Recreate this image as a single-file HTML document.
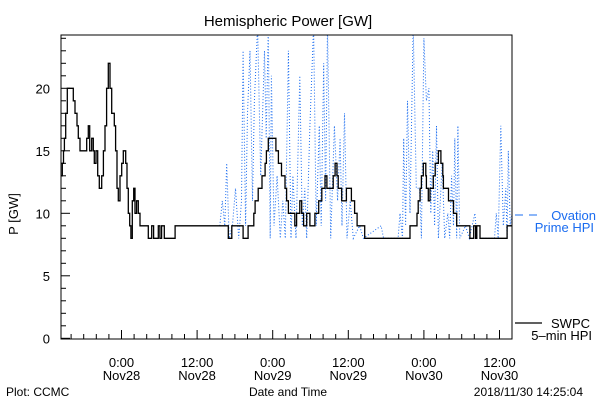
<!DOCTYPE html>
<html><head><meta charset="utf-8">
<style>
html,body{margin:0;padding:0;background:#fff;}
svg{display:block;font-family:"Liberation Sans",sans-serif;}
</style></head>
<body>
<svg id="chart" width="600" height="400" viewBox="0 0 600 400" xmlns="http://www.w3.org/2000/svg">
<defs><clipPath id="plotclip"><rect x="61" y="35" width="451" height="304"/></clipPath></defs>
<text x="288" y="26" font-size="15" text-anchor="middle">Hemispheric Power [GW]</text>
<g id="axes"></g>
<g id="series" clip-path="url(#plotclip)"></g>
<rect x="61" y="35" width="451" height="304" fill="none" stroke="#000" stroke-width="1"/>
<text transform="translate(18,214) rotate(-90)" font-size="13" text-anchor="middle">P [GW]</text>
<text x="288" y="396" font-size="12" text-anchor="middle">Date and Time</text>
<text x="6" y="396" font-size="12">Plot: CCMC</text>
<text x="583" y="396" font-size="12" text-anchor="end">2018/11/30 14:25:04</text>
<g>
<line x1="515" y1="215" x2="541" y2="215" stroke="#1a6cf0" stroke-width="1" stroke-dasharray="8 6"/>
<text x="596" y="220" font-size="13" fill="#1a6cf0" text-anchor="end">Ovation</text>
<text x="594" y="232" font-size="13" fill="#1a6cf0" text-anchor="end">Prime HPI</text>
</g>
<g>
<line x1="515" y1="323" x2="542" y2="323" stroke="#000" stroke-width="1.2"/>
<text x="590" y="328" font-size="13" text-anchor="end">SWPC</text>
<text x="592" y="340" font-size="13" text-anchor="end">5–min HPI</text>
</g>
</svg>
<script>
// hours relative to 2018-11-28 00:00
const swpcHours = [-9.6,-9.4,-9.2,-9.07,-8.86,-8.6,-7.65,-7.38,-7.07,-6.85,-6.59,-5.53,-5.27,-5.05,-4.73,-4.47,-4.31,-4.05,-3.78,-3.52,-3.15,-2.88,-2.62,-2.36,-2.09,-1.83,-1.56,-1.14,-0.93,-0.71,-0.5,-0.24,0.03,0.29,0.66,0.87,1.08,1.3,1.5,1.72,1.93,2.14,2.4,2.67,2.93,4.26,4.79,5.1,5.84,6.1,6.37,6.8,8.5,16.96,17.5,19.3,20.1,21.0,21.2,21.7,22.3,22.8,23.0,23.3,24.5,24.9,25.4,25.95,26.2,26.5,27.5,27.8,28.3,28.6,28.9,29.4,29.9,30.7,31.3,31.8,32.3,32.6,33.6,33.9,34.2,34.4,34.95,35.7,36.5,37.0,37.4,38.6,45.8,46.9,47.1,47.4,47.6,47.9,48.3,48.4,48.7,48.97,49.5,49.8,50.3,50.7,51.0,51.1,51.9,52.7,53.2,55.3,55.9,56.2,56.4,56.9,61.2,62.0];
const swpcValues = [13,14,15,16,18,20,19,18,17,16,15,16,17,15,16,15,14,15,13,12,13,15,17,20,22,20,18,17,15,12,11,13,14,15,14,12,10,9,8,11,12,10,11,10,9,8,9,8,9,8,9,8,9,8,9,8,9,10,11,12,13,14,15,16,15,14,13,12,11,10,9,10,11,10,9,10,9,10,11,12,13,12,13,14,13,12,11,12,11,10,9,8,9,10,11,12,13,14,13,12,11,12,13,14,15,14,13,12,11,10,9,8,9,8,9,8,9,9];
const ovationHours = [15.6,16.0,16.4,16.7,17.1,17.6,18.1,18.6,19.05,19.3,19.7,20.0,20.4,20.8,21.1,21.6,22.1,22.7,22.97,23.3,23.6,23.8,24.2,24.7,25.2,25.6,26.0,26.5,26.9,27.2,27.7,28.3,28.7,29.1,29.4,29.9,30.5,30.9,31.4,31.7,32.1,32.4,32.7,33.2,33.8,34.3,34.7,35.0,35.4,35.8,36.3,36.8,37.8,38.4,41.2,41.6,43.9,44.2,44.6,44.8,45.1,45.4,45.8,46.3,46.8,47.3,47.6,48.0,48.4,48.8,49.1,49.4,49.7,50.0,50.3,50.9,51.3,51.8,52.1,52.4,52.7,52.9,53.2,53.4,53.7,54.6,55.2,56.1,56.4,59.2,59.5,59.8,60.2,60.6,61.0,61.2,61.4,61.7,62.0];
const ovationValues = [9,11,9,14,8,9,12,8,11,23,9,18,23,11,19,25,13,23,16,25,8,21,9,13,8,11,8,23,8,13,8,21,9,12,8,17,25,9,17,9,22,11,25,8,17,11,16,9,18,8,11,8,9,8,9,8,8,10,8,16,9,19,10,25,12,12,8,24,19,20,10,15,9,17,8,14,8,10,8,13,9,16,8,17,8,9,8,10,8,8,10,8,17,9,12,8,15,9,10];
const yTickValues = [0,5,10,15,20];
const xTickHours = [0,12,24,36,48,60];
const xTickTimes = ["0:00","12:00","0:00","12:00","0:00","12:00"];
const xTickDates = ["Nov28","Nov28","Nov29","Nov29","Nov30","Nov30"];

const NS = "http://www.w3.org/2000/svg";
const X0 = 61, X1 = 512, Y0 = 338.3, YTOP = 35;
const xScale = h => 121.5 + 6.3 * h;
const yScale = v => Y0 - 12.5 * v;
function mk(tag, attrs, parent){ const e = document.createElementNS(NS, tag); for (const k in attrs) e.setAttribute(k, attrs[k]); parent.appendChild(e); return e; }

const axes = document.getElementById('axes');
// y ticks: minor every 1, major every 5
for (let v = 0; v <= 24; v++) {
  const major = v % 5 === 0;
  const t = mk('line', {x1: X0, x2: X0 + (major ? 9 : 5), y1: yScale(v), y2: yScale(v), stroke: '#000', 'stroke-width': 1}, axes);
  
  
}
yTickValues.forEach(v => {
  const t = mk('text', {x: 50, y: yScale(v) + 5, 'font-size': 13, 'text-anchor': 'end'}, axes);
  t.textContent = v;
  
  
});
// x ticks: minor every 2h, major every 12h
for (let h = -8; h <= 62; h += 2) {
  const major = ((h % 12) + 12) % 12 === 0;
  const x = xScale(h);
  if (x < X0 || x > X1) continue;
  const t = mk('line', {x1: x, x2: x, y1: 339, y2: 339 - (major ? 9 : 5), stroke: '#000', 'stroke-width': 1}, axes);
  
  
}
xTickHours.forEach((h, i) => {
  const x = xScale(h);
  const a = mk('text', {x: x, y: 367, 'font-size': 13, 'text-anchor': 'middle'}, axes);
  a.textContent = xTickTimes[i];
  
  
  const b = mk('text', {x: x, y: 380, 'font-size': 13, 'text-anchor': 'middle'}, axes);
  b.textContent = xTickDates[i];
  
  
});

const series = document.getElementById('series');
// Ovation dotted line
let d1 = '';
ovationHours.forEach((h, i) => { d1 += (i ? 'L' : 'M') + xScale(h).toFixed(1) + ',' + yScale(ovationValues[i]).toFixed(1); });
const ov = mk('path', {d: d1, fill: 'none', stroke: '#1a6cf0', 'stroke-width': 1, 'stroke-dasharray': '1 2'}, series);


// SWPC step line
let d2 = '';
swpcHours.forEach((h, i) => {
  const x = xScale(h), y = yScale(swpcValues[i]);
  if (i === 0) d2 += 'M' + x.toFixed(1) + ',' + y.toFixed(1);
  else d2 += 'H' + x.toFixed(1) + 'V' + y.toFixed(1);
});
d2 += 'H' + X1;
const sw = mk('path', {d: d2, fill: 'none', stroke: '#000', 'stroke-width': 1.3}, series);


</script>
</body></html>
